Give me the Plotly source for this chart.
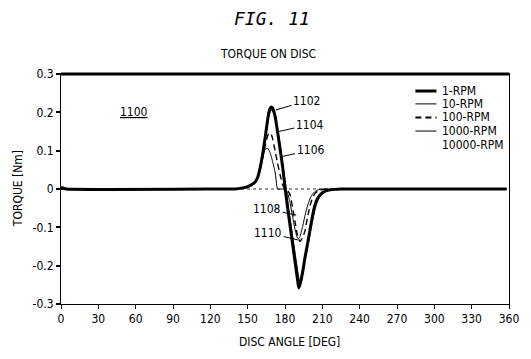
import plotly.graph_objects as go

# ---------------- data ----------------
angles = [0, 4, 130, 140, 146, 150, 153, 156, 158, 160, 162, 164, 166, 167, 168, 169, 170,
          172, 174, 176, 178, 180, 182, 184, 186, 188, 190, 191, 192, 194, 196,
          198, 200, 202, 204, 206, 208, 211, 215, 220, 225, 358]

torque_1 = [0.004, 0, 0, 0, 0.003, 0.006, 0.011, 0.018, 0.03, 0.055, 0.09, 0.133,
            0.18, 0.2, 0.21, 0.214, 0.211, 0.19, 0.15, 0.105, 0.06, 0.005, -0.047, -0.094,
            -0.141, -0.188, -0.235, -0.258, -0.25, -0.22, -0.18, -0.145, -0.108,
            -0.072, -0.042, -0.026, -0.016, -0.008, -0.003, -0.001, 0, 0]

torque_10 = [0, 0, 0, 0, 0.002, 0.005, 0.01, 0.017, 0.028, 0.052, 0.086, 0.126,
             0.17, 0.19, 0.2, 0.205, 0.204, 0.19, 0.158, 0.118, 0.072, 0.022, -0.03, -0.075,
             -0.12, -0.165, -0.21, -0.23, -0.245, -0.225, -0.19, -0.155, -0.12,
             -0.085, -0.055, -0.033, -0.02, -0.01, -0.004, -0.001, 0, 0]

torque_100 = [0, 0, 0, 0, 0.002, 0.005, 0.01, 0.018, 0.03, 0.05, 0.08, 0.112,
              0.138, 0.145, 0.146, 0.142, 0.132, 0.1, 0.068, 0.038, 0.012, 0, -0.004, -0.014,
              -0.048, -0.085, -0.12, -0.13, -0.137, -0.128, -0.11, -0.075, -0.045,
              -0.024, -0.012, -0.006, -0.003, -0.001, 0, 0, 0, 0]

torque_1000 = [0, 0, 0, 0, 0.001, 0.004, 0.008, 0.015, 0.028, 0.05, 0.08, 0.104,
               0.106, 0.102, 0.095, 0.085, 0.072, 0.045, 0, 0, 0, 0, -0.01, -0.035,
               -0.07, -0.105, -0.128, -0.13, -0.125, -0.1, -0.07, -0.045, -0.026,
               -0.014, -0.007, -0.003, -0.001, 0, 0, 0, 0, 0]

angles_flat = [0, 358]
torque_10000 = [0.0, 0.0]

series_names = ["1-RPM", "10-RPM", "100-RPM", "1000-RPM", "10000-RPM"]

x_ticks = [0, 30, 60, 90, 120, 150, 180, 210, 240, 270, 300, 330, 360]
y_ticks = [-0.3, -0.2, -0.1, 0, 0.1, 0.2, 0.3]
y_tick_labels = ["-0.3", "-0.2", "-0.1", "0", "0.1", "0.2", "0.3"]

ref_labels = ["1102", "1104", "1106", "1108", "1110"]
ref_x = [172.4, 175, 178, 189, 190.5]
ref_y = [0.206, 0.15, 0.085, -0.068, -0.133]

# ---------------- styling ----------------
FONT = "DejaVu Sans Condensed, Liberation Sans Narrow, sans-serif"
styles = {
    "1-RPM": dict(color="black", width=3),
    "10-RPM": dict(color="black", width=1),
    "100-RPM": dict(color="black", width=1.4, dash="6px,4px"),
    "1000-RPM": dict(color="black", width=1),
    "10000-RPM": dict(color="#333333", width=1, dash="dot"),
}

fig = go.Figure()
data = [
    ("10000-RPM", angles_flat, torque_10000),
    ("1000-RPM", angles, torque_1000),
    ("100-RPM", angles, torque_100),
    ("10-RPM", angles, torque_10),
    ("1-RPM", angles, torque_1),
]
for name, xs, ys in data:
    fig.add_trace(go.Scatter(x=xs, y=ys, mode="lines", name=name,
                             line=dict(styles[name], shape="spline", smoothing=0.4),
                             showlegend=False))

annotations = []
shapes = []

# top border drawn thick
shapes.append(dict(type="line", xref="paper", yref="paper", x0=0, x1=1, y0=1, y1=1,
                   line=dict(color="black", width=3)))

# manual legend (compact spacing like the reference)
leg_y = [0.926, 0.870, 0.811, 0.752, 0.691]
for name, ly in zip(series_names, leg_y):
    if name != "10000-RPM":
        st = dict(styles[name])
        if name == "100-RPM":
            st["width"] = 2
        shapes.append(dict(type="line", xref="paper", yref="paper",
                           x0=0.791, x1=0.838, y0=ly, y1=ly, line=st))
    annotations.append(dict(xref="paper", yref="paper", x=0.847, y=ly, text=name,
                            showarrow=False, xanchor="left", yanchor="middle",
                            font=dict(family=FONT, size=12, color="black")))

# reference numeral leaders
offsets = [(31, -9), (31, -7), (28, -6), (-29, -6), (-30, -7)]
for lab, rx, ry, (ax, ay) in zip(ref_labels, ref_x, ref_y, offsets):
    annotations.append(dict(x=rx, y=ry, xref="x", yref="y", text=lab,
                            showarrow=True, arrowhead=0, arrowwidth=1,
                            arrowcolor="black", ax=ax, ay=ay,
                            font=dict(family=FONT, size=12, color="black")))

annotations += [
    dict(xref="paper", yref="paper", x=0.471, y=1.243, text="FIG. 11",
         showarrow=False, xanchor="center", yanchor="middle",
         font=dict(family="DejaVu Sans Mono", size=18, color="black", style="italic")),
    dict(xref="paper", yref="paper", x=0.462, y=1.087, text="TORQUE ON DISC",
         showarrow=False, xanchor="center", yanchor="middle",
         font=dict(family=FONT, size=12, color="black")),
    dict(xref="paper", yref="paper", x=0.509, y=-0.165, text="DISC ANGLE [DEG]",
         showarrow=False, xanchor="center", yanchor="middle",
         font=dict(family=FONT, size=12, color="black")),
    dict(xref="paper", yref="paper", x=-0.0956, y=0.5, text="TORQUE [Nm]",
         showarrow=False, xanchor="center", yanchor="middle", textangle=-90,
         font=dict(family=FONT, size=12, color="black")),
    dict(xref="paper", yref="paper", x=0.162, y=0.835, text="<u>1100</u>",
         showarrow=False, xanchor="center", yanchor="middle",
         font=dict(family=FONT, size=12, color="black")),
]

fig.update_layout(
    width=531, height=359,
    margin=dict(l=61, r=20, t=74, b=55),
    paper_bgcolor="white", plot_bgcolor="white",
    font=dict(family=FONT, size=12, color="black"),
    shapes=shapes, annotations=annotations,
    xaxis=dict(range=[0, 360], tickvals=x_ticks, ticks="outside", ticklen=4,
               tickwidth=1, tickcolor="black", showline=True, linecolor="black",
               linewidth=1, mirror=True, showgrid=False, zeroline=False,
               tickfont=dict(family=FONT, size=12)),
    yaxis=dict(range=[-0.3, 0.3], tickvals=y_ticks, ticktext=y_tick_labels,
               ticks="outside", ticklen=4, tickwidth=1.5, tickcolor="black",
               showline=True, linecolor="black", linewidth=1, mirror=True,
               showgrid=False, zeroline=False,
               tickfont=dict(family=FONT, size=12)),
)

fig.write_html("out.html")
